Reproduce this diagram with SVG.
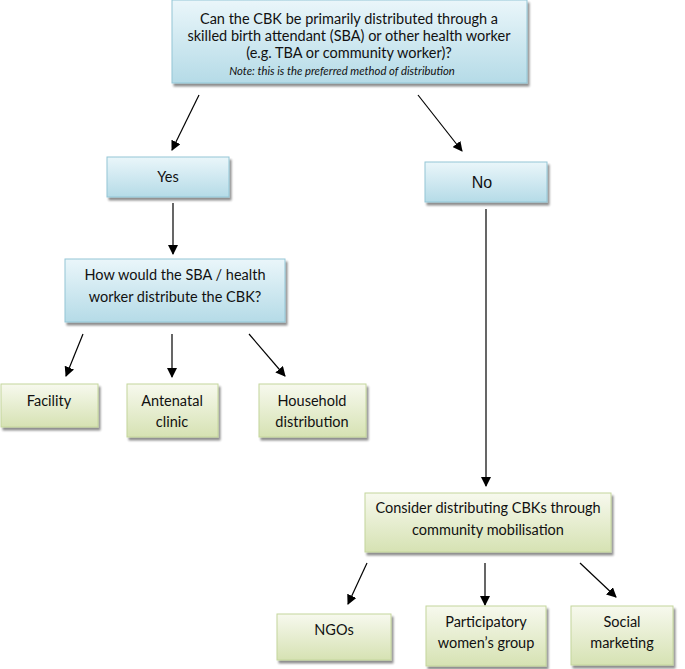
<svg xmlns="http://www.w3.org/2000/svg" width="685" height="669" viewBox="0 0 685 669">
<defs>
<linearGradient id="gb" x1="0" y1="0" x2="0" y2="1">
<stop offset="0" stop-color="#eaf6fa"/>
<stop offset="1" stop-color="#b5dbe7"/>
</linearGradient>
<linearGradient id="gg" x1="0" y1="0" x2="0" y2="1">
<stop offset="0" stop-color="#f7f9ee"/>
<stop offset="1" stop-color="#d6e2b3"/>
</linearGradient>
<marker id="ah" viewBox="0 0 10 10" refX="9" refY="5" markerWidth="10" markerHeight="10" markerUnits="userSpaceOnUse" orient="auto">
<path d="M0,0 L10,5 L0,10 z" fill="#000"/>
</marker>
<filter id="sh" x="-5%" y="-5%" width="115%" height="120%">
<feGaussianBlur in="SourceAlpha" stdDeviation="1"/>
<feOffset dx="2" dy="3"/>
<feComponentTransfer><feFuncA type="linear" slope="0.45"/></feComponentTransfer>
<feMerge><feMergeNode/><feMergeNode in="SourceGraphic"/></feMerge>
</filter>
</defs>
<style>
.b{fill:url(#gb);stroke:#93c6d6;stroke-width:1;filter:url(#sh)}
.g{fill:url(#gg);stroke:#c4d69c;stroke-width:1;filter:url(#sh)}
.t{font-family:Lato,"Open Sans","Liberation Sans",sans-serif;font-size:14.5px;fill:#111;text-anchor:middle}
.n{font-family:"Liberation Sans",Arial,sans-serif;font-size:16px;fill:#111;text-anchor:middle}
.i{font-family:Lato,"Open Sans","Liberation Sans",sans-serif;font-size:11.3px;font-style:italic;fill:#111;text-anchor:middle}
.c{stroke:#000;stroke-width:1.2;fill:none;marker-end:url(#ah)}
</style>
<rect width="685" height="669" fill="#fff"/>
<g id="connectors">
<line class="c" x1="199" y1="95" x2="172" y2="150"/>
<line class="c" x1="418" y1="95" x2="462" y2="151"/>
<line class="c" x1="173" y1="203" x2="173" y2="254"/>
<line class="c" x1="486" y1="209" x2="486" y2="486"/>
<line class="c" x1="83" y1="334" x2="66" y2="376"/>
<line class="c" x1="172" y1="334" x2="172" y2="377"/>
<line class="c" x1="249" y1="334" x2="285" y2="376"/>
<line class="c" x1="367" y1="563" x2="348" y2="604"/>
<line class="c" x1="485" y1="563" x2="485" y2="605"/>
<line class="c" x1="580" y1="563" x2="616" y2="597"/>
</g>
<g id="q1">
<rect class="b" x="172" y="0" width="355" height="83"/>
<text class="t" x="349" y="24">Can the CBK be primarily distributed through a</text>
<text class="t" x="349" y="41">skilled birth attendant (SBA) or other health worker</text>
<text class="t" x="349" y="58">(e.g. TBA or community worker)?</text>
<text class="i" x="342" y="75">Note: this is the preferred method of distribution</text>
</g>
<g id="yes">
<rect class="b" x="107" y="157" width="122" height="40"/>
<text class="t" x="168" y="182">Yes</text>
</g>
<g id="no">
<rect class="b" x="425" y="162" width="122" height="40"/>
<text class="n" x="482" y="188">No</text>
</g>
<g id="how">
<rect class="b" x="65" y="259" width="220" height="63"/>
<text class="t" x="175" y="280">How would the SBA / health</text>
<text class="t" x="175" y="302">worker distribute the CBK?</text>
</g>
<g id="facility">
<rect class="g" x="1" y="384" width="97" height="43"/>
<text class="t" x="49" y="406">Facility</text>
</g>
<g id="antenatal">
<rect class="g" x="127" y="384" width="91" height="53"/>
<text class="t" x="172" y="406">Antenatal</text>
<text class="t" x="172" y="427">clinic</text>
</g>
<g id="household">
<rect class="g" x="259" y="384" width="107" height="53"/>
<text class="t" x="312" y="406">Household</text>
<text class="t" x="312" y="427">distribution</text>
</g>
<g id="consider">
<rect class="g" x="365" y="493" width="246" height="59"/>
<text class="t" x="488" y="513">Consider distributing CBKs through</text>
<text class="t" x="488" y="535">community mobilisation</text>
</g>
<g id="ngos">
<rect class="g" x="277" y="614" width="114" height="46"/>
<text class="t" x="334" y="635">NGOs</text>
</g>
<g id="participatory">
<rect class="g" x="426" y="606" width="120" height="60"/>
<text class="t" x="486" y="627">Participatory</text>
<text class="t" x="486" y="648">women’s group</text>
</g>
<g id="social">
<rect class="g" x="571" y="606" width="102" height="59"/>
<text class="t" x="622" y="627">Social</text>
<text class="t" x="622" y="648">marketing</text>
</g>
</svg>
